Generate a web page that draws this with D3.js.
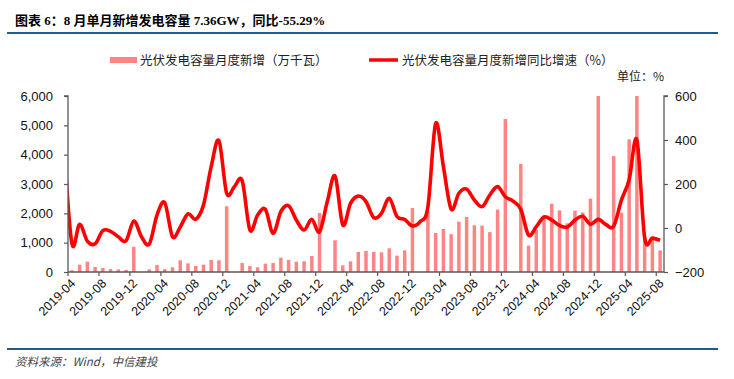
<!DOCTYPE html>
<html><head><meta charset="utf-8">
<script src="https://cdn.jsdelivr.net/npm/d3@7"></script>
<style>body{margin:0;background:#fff}svg{display:block}</style>
</head><body><svg id="c" width="734" height="379"></svg>
<script>
// categories (monthly)
const months = [
"2019-04","2019-05","2019-06","2019-07","2019-08","2019-09","2019-10","2019-11","2019-12",
"2020-01","2020-02","2020-03","2020-04","2020-05","2020-06","2020-07","2020-08","2020-09","2020-10","2020-11","2020-12",
"2021-01","2021-02","2021-03","2021-04","2021-05","2021-06","2021-07","2021-08","2021-09","2021-10","2021-11","2021-12",
"2022-01","2022-02","2022-03","2022-04","2022-05","2022-06","2022-07","2022-08","2022-09","2022-10","2022-11","2022-12",
"2023-01","2023-02","2023-03","2023-04","2023-05","2023-06","2023-07","2023-08","2023-09","2023-10","2023-11","2023-12",
"2024-01","2024-02","2024-03","2024-04","2024-05","2024-06","2024-07","2024-08","2024-09","2024-10","2024-11","2024-12",
"2025-01","2025-02","2025-03","2025-04","2025-05","2025-06","2025-07","2025-08"];
// 光伏发电容量月度新增（万千瓦）; null = 1-2月合并披露
const newCapacity = [
60,250,350,170,136,100,90,70,860,
null,90,240,100,160,400,295,205,250,410,400,2240,
null,310,200,160,285,307,490,410,350,365,545,2010,
null,1080,227,364,682,716,682,670,807,557,739,2180,
null,2057,1330,1466,1290,1716,1875,1591,1580,1360,2130,5216,
null,3682,898,1437,1900,2330,2102,1660,2090,2030,2500,6000,
null,3950,2023,4522,6000,1200,1100,736];
// 同比增速（%）, first entry is 2019-03 (just left of the plot, clipped)
const yoyMonths = ["2019-03"].concat(months);
const yoyGrowth = [
380,
-70,17,-60,-72,-12,-15,-40,-58,32,
-40,-73,59,115,-40,5,64,40,104,279,397,158,
188,215,-9,59,85,-24,74,101,36,-9,39,-17,
120,236,14,112,145,120,47,67,135,52,39,9,
29,97,476,279,86,158,177,127,97,150,188,142,
122,85,-32,6,50,36,12,4,36,53,17,39,
16,8,127,220,400,-44,-46,-55.29];
const leftTicks = [0,1000,2000,3000,4000,5000,6000];
const rightTicks = [-200,0,200,400,600];
const xTickLabels = months.filter((m,i)=>i%4===0);

const svg = d3.select("#c");
const L = 68, R = 664, T = 96, B = 272;
const axisColor = "#595959";
const font = "'Liberation Sans', Arial, sans-serif";
const cjk = "'Noto Sans CJK SC', sans-serif";

const x = d3.scaleBand().domain(months).range([L, R]).paddingInner(0.55).paddingOuter(0.275);
const xb = d3.scaleBand().domain(months).range([L, R]);
const xi = d3.scaleLinear().domain([-0.5, months.length - 0.5]).range([L, R]);
const yL = d3.scaleLinear().domain([0, 6000]).range([B, T]).clamp(true);
const yR = d3.scaleLinear().domain([-200, 600]).range([B, T]);

// title
svg.append("text").attr("x", 15).attr("y", 25)
  .attr("font-family", "'Liberation Serif', 'Noto Sans CJK SC', serif")
  .attr("font-weight", "bold").attr("font-size", 13).attr("fill", "#000")
  .text("图表 6：8 月单月新增发电容量 7.36GW，同比-55.29%");
svg.append("line").attr("x1", 7).attr("x2", 718).attr("y1", 33).attr("y2", 33)
  .attr("stroke", "#1f5a96").attr("stroke-width", 2);
svg.append("line").attr("x1", 7).attr("x2", 718).attr("y1", 349).attr("y2", 349)
  .attr("stroke", "#1f5a96").attr("stroke-width", 2);
svg.append("text").attr("x", 15).attr("y", 366)
  .attr("font-family", cjk).attr("font-style", "italic").attr("font-size", 11.5).attr("fill", "#444")
  .text("资料来源：Wind，中信建投");

// legend
svg.append("rect").attr("x", 110).attr("y", 57).attr("width", 27).attr("height", 6).attr("fill", "#ff8585");
svg.append("text").attr("x", 140).attr("y", 64.5).attr("font-family", cjk).attr("font-size", 12.5).attr("fill", "#222")
  .text("光伏发电容量月度新增（万千瓦）");
svg.append("line").attr("x1", 369).attr("x2", 398).attr("y1", 60).attr("y2", 60)
  .attr("stroke", "#ff0000").attr("stroke-width", 3.5);
svg.append("text").attr("x", 402).attr("y", 64.5).attr("font-family", cjk).attr("font-size", 12.5).attr("fill", "#222")
  .text("光伏发电容量月度新增同比增速（%）");
svg.append("text").attr("x", 617).attr("y", 81).attr("font-family", cjk).attr("font-size", 12).attr("fill", "#222")
  .text("单位：%");

// clip
svg.append("clipPath").attr("id", "plot").append("rect")
  .attr("x", L).attr("y", T - 10).attr("width", R - L).attr("height", B - T + 20);

// bars
svg.append("g").selectAll("rect")
  .data(months.map((m, i) => ({m, v: newCapacity[i]})).filter(d => d.v != null))
  .join("rect")
  .attr("x", d => x(d.m)).attr("width", x.bandwidth())
  .attr("y", d => yL(d.v)).attr("height", d => B - yL(d.v))
  .attr("fill", "#ff8585");

// line
const line = d3.line()
  .x((d, i) => xi(i - 1))
  .y(d => yR(d))
  .curve(d3.curveCardinal.tension(0));
svg.append("path").datum(yoyGrowth)
  .attr("clip-path", "url(#plot)")
  .attr("d", line).attr("fill", "none")
  .attr("stroke", "#ff0000").attr("stroke-width", 3.6).attr("stroke-linejoin", "round");

// left axis
const gl = svg.append("g").attr("transform", `translate(${L},0)`)
  .call(d3.axisLeft(yL).tickValues(leftTicks).tickSize(4).tickPadding(11).tickFormat(d3.format(",")));
// right axis
const gr = svg.append("g").attr("transform", `translate(${R},0)`)
  .call(d3.axisRight(yR).tickValues(rightTicks).tickSize(4).tickPadding(7));
[gl, gr].forEach(g => {
  g.select(".domain").attr("stroke", axisColor).attr("stroke-width", 1.3).attr("d", g === gl ? `M-4,${T}H0V${B}` : `M4,${T}H0V${B}`);
  g.selectAll(".tick line").attr("stroke", axisColor).attr("stroke-width", 1.2);
  g.selectAll(".tick text").attr("font-family", font).attr("font-size", 13).attr("fill", "#111");
});

// x axis
const gx = svg.append("g");
gx.append("line").attr("x1", L).attr("x2", R).attr("y1", B).attr("y2", B)
  .attr("stroke", axisColor).attr("stroke-width", 1.3);
gx.selectAll("line.t").data(xTickLabels).join("line").attr("class", "t")
  .attr("x1", d => xb(d)).attr("x2", d => xb(d)).attr("y1", B).attr("y2", B + 4)
  .attr("stroke", axisColor).attr("stroke-width", 1.2);
gx.selectAll("text").data(xTickLabels).join("text")
  .attr("transform", d => `translate(${xb(d) + 5},${B + 9}) rotate(-45)`)
  .attr("text-anchor", "end").attr("dy", "0.35em")
  .attr("font-family", font).attr("font-size", 12.5).attr("fill", "#111")
  .text(d => d);
</script></body></html>
